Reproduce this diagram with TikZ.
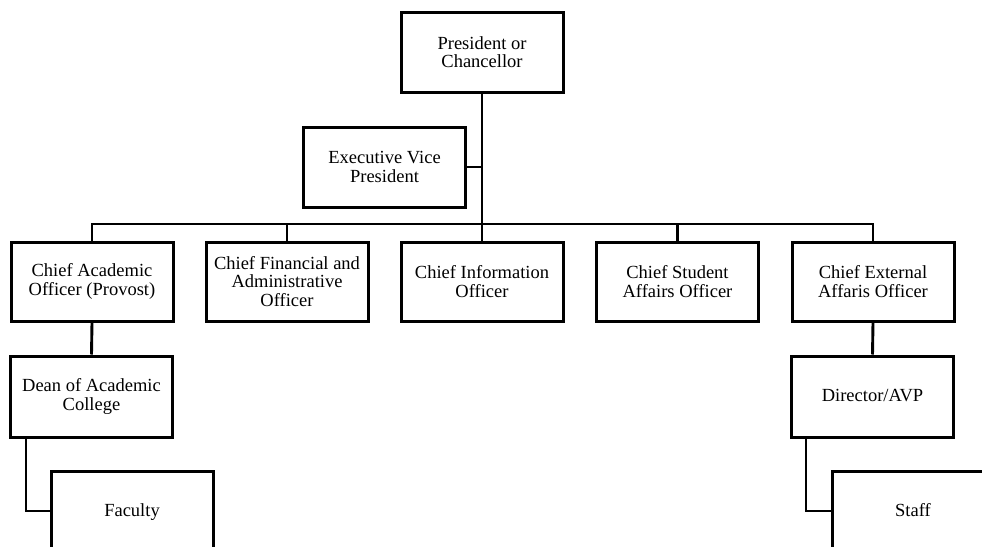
\documentclass[tikz,border=0pt]{standalone}
\usepackage{fontspec}
\setmainfont{Liberation Serif}
\begin{document}
\begin{tikzpicture}[x=1pt,y=-1pt,
  box/.style={draw=black, line width=3pt, fill=white, minimum width=162pt, minimum height=80pt,
    align=center, inner sep=2pt, font=\fontsize{18.5}{18.5}\selectfont},
  oneline/.style={text height=13.5pt, text depth=3pt},
  conn/.style={draw=black, line width=2.9pt}]
\useasboundingbox (0,0) rectangle (982,546);
\clip (0,0) rectangle (982,546);
\coordinate (bus) at (482,224);
\node[box] (pres) at (482,52) {President or\\Chancellor};
\node[box] (evp) at (384.5,167) {Executive Vice\\President};
\node[box, minimum height=79pt] (cao) at (92,281.5) {Chief Academic\\Officer (Provost)};
\node[box, minimum height=79pt] (cfo) at (287,281.5) {Chief Financial and\\Administrative\\Officer};
\node[box, minimum height=79pt] (cio) at (482,281.5) {Chief Information\\Officer};
\node[box, minimum height=79pt] (cso) at (677.5,281.5) {Chief Student\\Affairs Officer};
\node[box, minimum height=79pt] (ceo) at (873,281.5) {Chief External\\Affaris Officer};
\node[box, minimum height=81pt] (dean) at (91.5,396.5) {Dean of Academic\\College};
\node[box, oneline, minimum height=81pt] (dir) at (872.5,396.5) {Director/AVP};
\node[box, oneline] (fac) at (132,511) {Faculty};
\node[box, oneline] (staff) at (913,511) {Staff};
\draw[conn] (pres.south) -- (bus);
\draw[conn] (evp.east) -- (evp.east -| bus);
\draw[conn] (cao.north) -- (cao.north |- bus) -- (ceo.north |- bus) -- (ceo.north);
\draw[conn] (cfo.north) -- (cfo.north |- bus);
\draw[conn] (cio.north) -- (cio.north |- bus);
\draw[conn] (cso.north) -- (cso.north |- bus);
\draw[conn] (cao.south) -- (dean.north);
\draw[conn] (ceo.south) -- (dir.north);
\draw[conn] ([xshift=17pt]dean.south west) |- (fac.west);
\draw[conn] ([xshift=16pt]dir.south west) |- (staff.west);
\end{tikzpicture}
\end{document}
